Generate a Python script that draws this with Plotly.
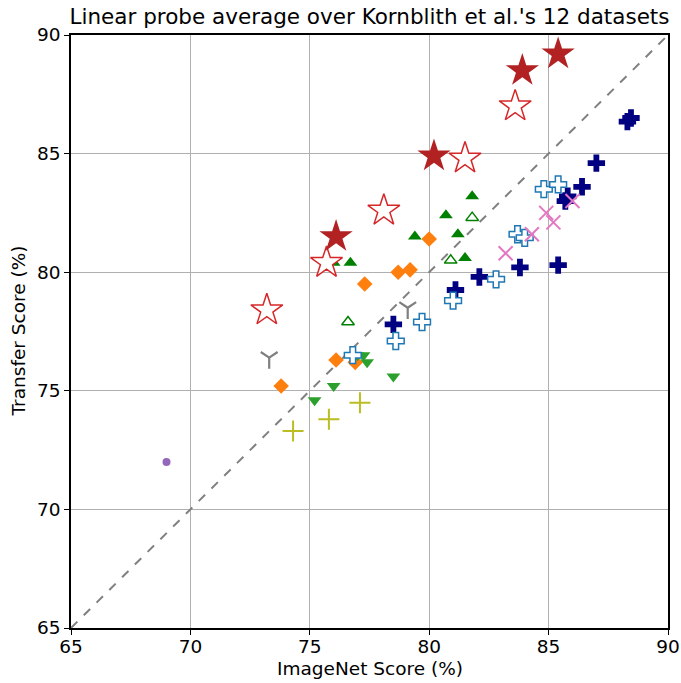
import plotly.graph_objects as go

# ---- data (ImageNet score, Transfer score) per series ----
red_filled_x = [85.4, 83.9, 80.2, 76.1]
red_filled_y = [89.2, 88.5, 84.9, 81.5]

red_open_x = [83.6, 81.5, 78.1, 75.7, 73.2]
red_open_y = [87.0, 84.8, 82.6, 80.4, 78.4]

navy_x = [88.3, 88.45, 87.0, 86.4, 85.8, 85.7, 85.4, 83.8, 82.1, 81.1, 78.5]
navy_y = [86.35, 86.5, 84.6, 83.6, 83.2, 83.0, 80.3, 80.2, 79.8, 79.25, 77.8]

blue_open_x = [84.8, 85.4, 83.7, 84.0, 82.8, 81.0, 79.7, 78.6, 76.8]
blue_open_y = [83.5, 83.7, 81.6, 81.45, 79.7, 78.8, 77.9, 77.1, 76.5]

pink_x = [86.0, 84.9, 85.2, 84.3, 83.2]
pink_y = [83.0, 82.5, 82.1, 81.6, 80.8]

orange_x = [73.8, 76.1, 76.9, 77.3, 78.7, 79.2, 80.0]
orange_y = [75.2, 76.3, 76.2, 79.5, 80.0, 80.1, 81.4]

green_down_x = [75.2, 76.0, 78.5, 77.0, 77.25, 77.4]
green_down_y = [74.6, 75.2, 75.6, 76.5, 76.5, 76.2]

green_up_x = [76.0, 76.7, 81.5, 79.4, 80.7, 81.2, 81.8]
green_up_y = [80.4, 80.4, 80.6, 81.5, 82.4, 81.6, 83.2]

green_open_x = [76.6, 80.9, 81.8]
green_open_y = [77.9, 80.5, 82.3]

gray_x = [73.3, 79.1]
gray_y = [76.4, 78.5]

olive_x = [74.3, 75.8, 77.1]
olive_y = [73.3, 73.8, 74.5]

purple_x = [69.0]
purple_y = [72.0]

diag = [65, 90]
x_ticks = [65, 70, 75, 80, 85, 90]
y_ticks = [65, 70, 75, 80, 85, 90]

fig = go.Figure()

fig.add_trace(go.Scatter(x=diag, y=diag, mode="lines",
                         line=dict(color="#808080", width=2, dash="dash"),
                         hoverinfo="skip"))

def add(x, y, symbol, size, color, fill=None, lw=0):
    fig.add_trace(go.Scatter(
        x=x, y=y, mode="markers",
        marker=dict(symbol=symbol, size=size,
                    color=fill if fill is not None else color,
                    line=dict(color=color, width=lw))))

add(purple_x, purple_y, "circle", 8, "#9467bd")
add(olive_x, olive_y, "cross-thin-open", 15, "#bcbd22", lw=2)
add(gray_x, gray_y, "y-down-open", 14, "#7f7f7f", lw=2.2)
add(orange_x, orange_y, "diamond", 12, "#ff7f0e")
add(green_down_x, green_down_y, "triangle-down", 12, "#2ca02c")
add(green_up_x, green_up_y, "triangle-up", 12, "#008000")
add(green_open_x, green_open_y, "triangle-up-open", 11, "#008000", lw=1.5)
add(navy_x, navy_y, "cross", 14.5, "#000080")
add(blue_open_x, blue_open_y, "cross", 14, "#1f77b4", fill="white", lw=1.5)
add(pink_x, pink_y, "x-thin-open", 14, "#e377c2", lw=2)
add(red_open_x, red_open_y, "star", 24, "#d62728", fill="white", lw=1.5)
add(red_filled_x, red_filled_y, "star", 25, "#b22222")

axis_common = dict(
    showgrid=True, gridcolor="#b0b0b0", gridwidth=1,
    showline=True, linecolor="black", linewidth=1.5, mirror=True,
    ticks="outside", ticklen=5, tickwidth=1.2, tickcolor="black",
    tickfont=dict(family="DejaVu Sans", size=18.5, color="black"),
    zeroline=False, automargin=False,
)

label_font = dict(family="DejaVu Sans", size=18.5, color="black")

fig.update_layout(
    width=681, height=683,
    margin=dict(l=71, r=13, t=35, b=55),
    paper_bgcolor="white", plot_bgcolor="white",
    showlegend=False,
    title=dict(text="Linear probe average over Kornblith et al.'s 12 datasets",
               x=0.5, xref="paper", xanchor="center",
               y=1 - 16 / 683, yref="container", yanchor="middle",
               font=dict(family="DejaVu Sans", size=21.5, color="black")),
    xaxis=dict(range=[65, 90], tickvals=x_ticks, ticklabelstandoff=-4,
               **axis_common),
    yaxis=dict(range=[65, 90], tickvals=y_ticks, **axis_common),
    annotations=[
        dict(text="ImageNet Score (%)", xref="paper", yref="paper",
             x=0.5, y=-40 / 593, xanchor="center", yanchor="middle",
             showarrow=False, font=label_font),
        dict(text="Transfer Score (%)", xref="paper", yref="paper",
             x=-53 / 597, y=0.5, xanchor="center", yanchor="middle",
             textangle=-90, showarrow=False, font=label_font),
    ],
)

fig.write_html("out.html")
